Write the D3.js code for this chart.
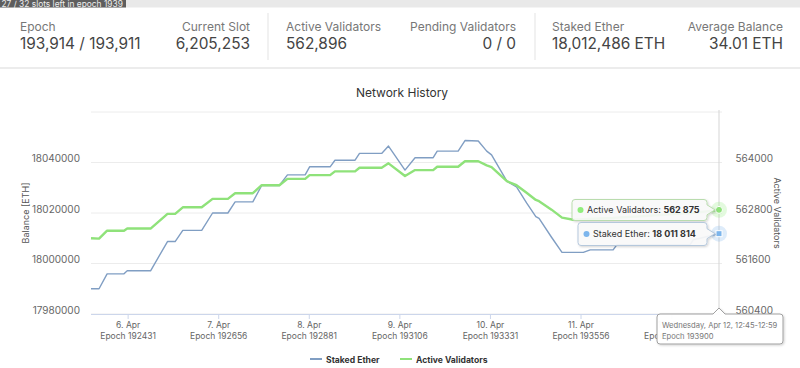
<!DOCTYPE html>
<html><head><meta charset="utf-8">
<script src="https://cdn.jsdelivr.net/npm/d3@7"></script>
<style>
html,body{margin:0;padding:0;background:#fff;}
svg{display:block;font-family:Inter,"Noto Sans",sans-serif;}
</style>
</head><body>
<svg id="c" width="800" height="368"></svg>
<script>
// ---------- data ----------
const epochs = [192340,192360,192380,192422,192430,192488,192530,192549,192568,192615,
  192642,192680,192698,192742,192764,192808,192828,192872,192883,192934,
  192946,192996,193007,193062,193079,193120,193145,193190,193200,193252,
  193269,193302,193323,193335,193373,193397,193422,193445,193453,193484,
  193510,193538,193563,193580,193637,193646,193704,193795,193828,193836,
  193853,193900];
const stakedEther = [17990000,17990000,17995900,17995900,17997100,17997100,18008700,18008700,18013100,18013100,
  18020000,18020000,18024400,18024400,18030900,18030900,18035100,18035100,18038300,18038300,
  18040900,18040900,18043600,18043600,18046500,18037000,18041900,18041900,18044500,18044500,
  18048700,18048500,18044500,18043000,18032600,18030300,18024000,18018600,18017900,18010400,
  18004400,18004400,18004400,18005400,18005400,18007400,18007400,18007400,18007400,18009400,
  18010000,18011814];
const activeValidators = [562200,562190,562380,562380,562430,562430,562780,562780,562935,562935,
  563135,563135,563270,563270,563460,563460,563610,563610,563700,563700,
  563790,563790,563875,563875,563980,563680,563820,563820,563900,563900,
  564030,564030,563930,563890,563555,563460,563280,563110,563080,562880,
  562690,562640,562650,562660,562680,562690,562720,562780,562800,562805,
  562820,562875];
const leftTicks = [17980000,18000000,18020000,18040000];
const leftGrid = [17980000,18000000,18020000,18040000,18060000];
const rightTicks = [560400,561600,562800,564000];
const xTickEpochs = [192431,192656,192881,193106,193331,193556,193781];
const xTickDays = ["6. Apr","7. Apr","8. Apr","9. Apr","10. Apr","11. Apr","12. Apr"];
const statLabels = ["Epoch","Current Slot","Active Validators","Pending Validators","Staked Ether","Average Balance"];
const statValues = ["193,914 / 193,911","6,205,253","562,896","0 / 0","18,012,486 ETH","34.01 ETH"];
const seriesNames = ["Staked Ether","Active Validators"];
const hoverEpoch = 193900;
const hoverText = ["Wednesday, Apr 12, 12:45-12:59","Epoch 193900"];
const epochBanner = "27 / 32 slots left in epoch 1939";

const blue = "#809ec3", green = "#8fe27a", blueDot = "#7cb5ec", greenDot = "#90ed7d";

const svg = d3.select("#c");
const defs = svg.append("defs");
const f = defs.append("filter").attr("id","sh").attr("x","-20%").attr("y","-30%").attr("width","140%").attr("height","170%");
f.append("feDropShadow").attr("dx",1).attr("dy",1).attr("stdDeviation",1.2).attr("flood-color","#000").attr("flood-opacity",0.18);

// ---------- top banner & header ----------
svg.append("rect").attr("x",0).attr("y",0).attr("width",800).attr("height",7.5).attr("fill","#e9e9e9");
svg.append("rect").attr("x",0).attr("y",0).attr("width",126).attr("height",7.5).attr("fill","#5e5e5e");
svg.append("text").attr("x",1.5).attr("y",6.6).attr("font-size",8.4).attr("fill","#eee").text(epochBanner);
svg.append("line").attr("x1",0).attr("x2",800).attr("y1",68).attr("y2",68).attr("stroke","#e6e6e6").attr("stroke-width",1.5);
const statX = [20,250,286,516,552,783];
const statAnchor = ["start","end","start","end","start","end"];
statLabels.forEach((l,i)=>{
  svg.append("text").attr("x",statX[i]).attr("y",30.7).attr("text-anchor",statAnchor[i])
    .attr("font-size",12).attr("fill","#777").text(l);
  svg.append("text").attr("x",statX[i]).attr("y",49.3).attr("text-anchor",statAnchor[i])
    .attr("font-size",15.4).attr("fill","#444").text(statValues[i]);
});
[268,535].forEach(x=>svg.append("line").attr("x1",x).attr("x2",x).attr("y1",13).attr("y2",60).attr("stroke","#e3e3e3"));

// ---------- scales ----------
const x = d3.scaleLinear().domain([192340,193900]).range([91,719]);
const yL = d3.scaleLinear().domain([17980000,18060000]).range([314,112]);
const yR = d3.scaleLinear().domain([560400,565200]).range([314,112]);

// title
svg.append("text").attr("x",402).attr("y",97).attr("text-anchor","middle").attr("font-size",12).attr("fill","#333").text("Network History");

// gridlines
svg.append("g").selectAll("line").data(leftGrid).join("line")
  .attr("x1",91).attr("x2",722).attr("y1",d=>yL(d)).attr("y2",d=>yL(d))
  .attr("stroke","#ececec").attr("stroke-width",1);

// left axis
const gl = svg.append("g").attr("transform","translate(80,0)")
  .call(d3.axisLeft(yL).tickValues(leftTicks).tickSize(0).tickPadding(0).tickFormat(d3.format("d")));
gl.select(".domain").remove();
gl.selectAll("text").attr("font-size",10).attr("fill","#666").attr("font-family","Inter").attr("dy","-0.1em");

// right axis
const gr = svg.append("g").attr("transform","translate(735.5,0)")
  .call(d3.axisRight(yR).tickValues(rightTicks).tickSize(0).tickPadding(0).tickFormat(d3.format("d")));
gr.select(".domain").remove();
gr.selectAll("text").attr("font-size",10).attr("fill","#666").attr("font-family","Inter").attr("dy","-0.1em");

// axis titles
svg.append("text").attr("transform","translate(28.5,213) rotate(-90)").attr("text-anchor","middle")
  .attr("font-size",9).attr("fill","#555").text("Balance [ETH]");
svg.append("text").attr("transform","translate(774,213) rotate(90)").attr("text-anchor","middle")
  .attr("font-size",9).attr("fill","#555").text("Active Validators");

// x axis
const gx = svg.append("g").attr("transform","translate(0,314)")
  .call(d3.axisBottom(x).tickValues(xTickEpochs).tickSize(5).tickPadding(0).tickFormat(()=>""));
gx.select(".domain").attr("d","M91,0.5H722").attr("stroke","#ccd6eb");
gx.selectAll(".tick line").attr("stroke","#ccd6eb");
gx.selectAll(".tick text").each(function(d,i){
  const t = d3.select(this).attr("y",0).attr("dy",null).attr("font-size",8.5).attr("fill","#666").attr("font-family","Inter");
  t.append("tspan").attr("x",0).attr("y",14).text(xTickDays[i]);
  t.append("tspan").attr("x",0).attr("y",24.5).text("Epoch " + d);
});

// crosshair
svg.append("line").attr("x1",x(hoverEpoch)).attr("x2",x(hoverEpoch)).attr("y1",110).attr("y2",314)
  .attr("stroke","#d5d5d5").attr("stroke-width",1);

// lines
const data = epochs.map((e,i)=>({e, s:stakedEther[i], a:activeValidators[i]}));
svg.append("path").datum(data).attr("fill","none").attr("stroke",blue).attr("stroke-width",1.4)
  .attr("stroke-linejoin","round").attr("d",d3.line().x(d=>x(d.e)).y(d=>yL(d.s)));
svg.append("path").datum(data).attr("fill","none").attr("stroke",green).attr("stroke-width",2.4)
  .attr("stroke-linejoin","round").attr("d",d3.line().x(d=>x(d.e)).y(d=>yR(d.a)));

// hover markers
const last = data[data.length-1];
const hx = x(last.e), hyA = yR(last.a), hyS = yL(last.s);
svg.append("circle").attr("cx",hx).attr("cy",hyA).attr("r",8).attr("fill",greenDot).attr("opacity",0.25);
svg.append("circle").attr("cx",hx).attr("cy",hyA).attr("r",3.5).attr("fill",green).attr("stroke","#fff");
svg.append("circle").attr("cx",hx).attr("cy",hyS).attr("r",8).attr("fill",blueDot).attr("opacity",0.25);
svg.append("rect").attr("x",hx-3).attr("y",hyS-3).attr("width",6).attr("height",6).attr("fill",blueDot).attr("stroke","#fff");

// tooltips
function callBox(x0,x1,y0,y1,ax,ay,side){
  const r=3;
  if(side==="right"){
    return `M${x0+r},${y0}H${x1-r}Q${x1},${y0} ${x1},${y0+r}V${ay-5}L${ax},${ay}L${x1},${ay+5}V${y1-r}Q${x1},${y1} ${x1-r},${y1}H${x0+r}Q${x0},${y1} ${x0},${y1-r}V${y0+r}Q${x0},${y0} ${x0+r},${y0}Z`;
  }
  return `M${x0+r},${y0}H${ax-6}L${ax},${ay}L${ax+6},${y0}H${x1-r}Q${x1},${y0} ${x1},${y0+r}V${y1-r}Q${x1},${y1} ${x1-r},${y1}H${x0+r}Q${x0},${y1} ${x0},${y1-r}V${y0+r}Q${x0},${y0} ${x0+r},${y0}Z`;
}
function tip(x0,x1,y0,y1,ay,col,dot,name,val){
  svg.append("path").attr("d",callBox(x0,x1,y0,y1,hx-4,ay,"right")).attr("fill","rgba(250,250,250,0.92)")
    .attr("stroke",col).attr("stroke-width",1).attr("filter","url(#sh)");
  const cy=(y0+y1)/2;
  svg.append("circle").attr("cx",x0+8.5).attr("cy",cy).attr("r",3).attr("fill",dot);
  const t = svg.append("text").attr("x",x0+15).attr("y",cy+3.2).attr("font-size",9).attr("fill","#333");
  t.append("tspan").text(name+": ");
  t.append("tspan").attr("font-weight","bold").text(d3.format(",")(val).replace(/,/g," "));
}
tip(572,707,199.5,220.5,hyA,"#b9dcae",greenDot,seriesNames[1],last.a);
tip(578,707,222.5,245.5,hyS,"#b5c8dc",blueDot,seriesNames[0],Math.round(last.s));

svg.append("path").attr("d",callBox(657,783,314,344,hx,308,"top")).attr("fill","rgba(255,255,255,0.97)")
  .attr("stroke","#a0a0a0").attr("stroke-width",1).attr("filter","url(#sh)");
svg.append("text").attr("x",662).attr("y",328).attr("font-size",7.6).attr("fill","#777").text(hoverText[0]);
svg.append("text").attr("x",662).attr("y",338.5).attr("font-size",7.6).attr("fill","#777").text(hoverText[1]);

// legend
const lg = svg.append("g");
[[310,blue,seriesNames[0]],[400,green,seriesNames[1]]].forEach(([lx,c,n])=>{
  lg.append("line").attr("x1",lx).attr("x2",lx+12).attr("y1",359).attr("y2",359).attr("stroke",c).attr("stroke-width",2);
  lg.append("text").attr("x",lx+16).attr("y",362.5).attr("font-size",8.6).attr("font-weight","bold").attr("fill","#333").text(n);
});
</script>
</body></html>
